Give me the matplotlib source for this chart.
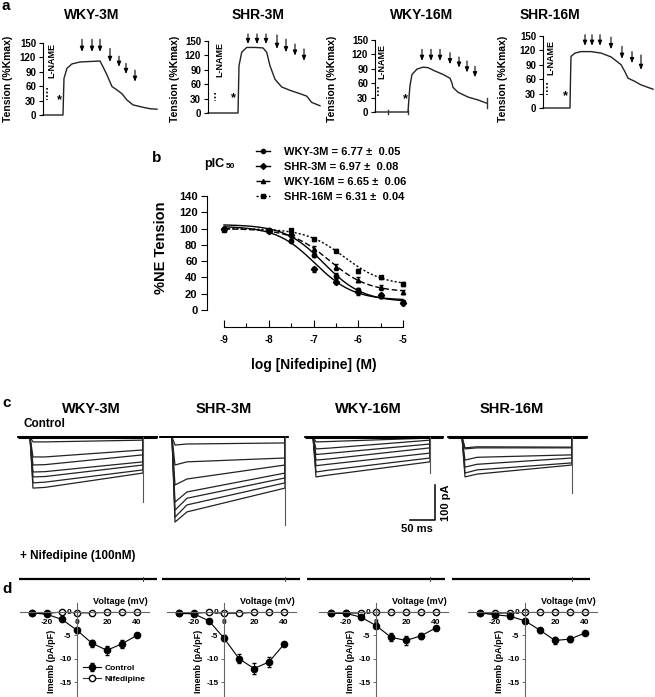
import numpy as np
import matplotlib
matplotlib.use('Agg')
import matplotlib.pyplot as plt
from matplotlib.lines import Line2D

plt.rcParams['font.family'] = ['Liberation Sans', 'DejaVu Sans']
plt.rcParams['font.weight'] = 'bold'
plt.rcParams['axes.labelweight'] = 'bold'
plt.rcParams['axes.unicode_minus'] = False

groups = ['WKY-3M', 'SHR-3M', 'WKY-16M', 'SHR-16M']

# ---------------- panel a : tension traces (time in px-like units, %Kmax)
a_t = [[0, 20, 20.5, 21, 24, 29, 37, 47, 57, 60, 64, 69, 74, 79, 84, 90, 100, 107, 114],
       [0, 30, 31, 33.7, 38.7, 47, 55, 58.7, 62, 67, 73.7, 82, 92, 98.7, 103.7, 112],
       [0, 33, 34, 35, 37, 42, 48, 53, 60, 68, 75, 77, 78, 83, 93, 103, 112],
       [0, 27, 27.5, 28, 32, 38, 48, 58, 68, 78, 82, 85, 92, 98, 110]]
a_y = [[0, 0, 40, 76, 97, 106, 110, 111, 112, 100, 83, 59, 52, 44, 31, 21, 16, 13, 12],
       [0, 0, 98, 126, 136, 136, 135, 126, 98, 70, 54, 47, 40, 35, 22, 15],
       [0, 0, 30, 55, 78, 89, 93, 92, 85, 78, 70, 60, 51, 41, 31, 25, 18],
       [0, 0, 60, 107, 114, 117, 117, 114, 106, 90, 75, 62, 55, 48, 39]]
a_arrow_t = [[39, 49, 57, 67, 76, 83, 92],
             [40, 49, 58, 69, 78, 87, 96],
             [47, 56, 65, 75, 84, 92, 100],
             [42, 49, 57, 68, 79, 89, 98]]
a_arrow_top = [[157, 157, 157, 138, 122, 107, 93],
               [164, 164, 164, 162, 153, 143, 133],
               [130, 130, 130, 123, 114, 106, 95],
               [152, 152, 152, 147, 128, 117, 110]]
a_arrow_tip = [[131, 131, 131, 110, 100, 85, 69],
               [143, 143, 143, 133, 126, 119, 108],
               [106, 106, 106, 99, 92, 82, 72],
               [129, 129, 129, 122, 102, 93, 79]]
a_ticks = [0, 30, 60, 90, 120, 150]

# ---------------- panel b : concentration-response
b_logc = [-9, -8, -7.5, -7, -6.5, -6, -5.5, -5]
b_vals = {'WKY-3M': [100, 98, 85, 68, 42, 25, 17, 10],
          'SHR-3M': [100, 97, 92, 50, 35, 22, 18, 8],
          'WKY-16M': [100, 98, 95, 75, 53, 37, 28, 22],
          'SHR-16M': [98, 97, 98, 87, 73, 48, 40, 32]}
b_err = {'WKY-3M': [1, 1, 2, 3, 3, 2, 2, 2],
         'SHR-3M': [1, 1, 2, 3, 3, 3, 3, 2],
         'WKY-16M': [1, 1, 2, 3, 4, 3, 3, 2],
         'SHR-16M': [1, 1, 2, 2, 2, 2, 2, 2]}
b_pic50 = [6.77, 6.97, 6.65, 6.31]
b_pic50_err = [0.05, 0.08, 0.06, 0.04]
b_top = [105, 103, 100, 100]
b_bottom = [10, 12, 22, 30]

# ---------------- panel c : current traces (ms, pA)
c_on = [24, 24, 16, 28]
c_off = [250, 250, 250, 248]
c_end = [278, 256, 276, 278]
c_peak = [[-14, -57, -80, -100, -114, -131, -146],
          [-23, -80, -137, -186, -209, -229, -243],
          [-14, -34, -50, -66, -82, -100, -114],
          [-31, -34, -66, -86, -103, -114]]
c_mid = [[-14, -57, -79, -99, -113, -129, -144],
         [-20, -71, -120, -157, -175, -194, -214],
         [-13, -32, -47, -63, -78, -95, -109],
         [-28, -31, -58, -78, -94, -106]]
c_late = [[-9, -37, -51, -71, -80, -94, -103],
          [-17, -60, -80, -103, -117, -131, -146],
          [-3, -9, -20, -31, -46, -60, -71],
          [-29, -31, -51, -60, -74, -80]]
c_tail = [-186, -251, -103, -160]
nif_start = [2, 4, 4, 8]
nif_stop = [278, 280, 280, 284]
scale_ms, scale_pa = 50, 100

# ---------------- panel d : I-V curves
d_volt = [-30, -20, -10, 0, 10, 20, 30, 40]
d_ctrl = [[-0.2, -0.5, -1.6, -3.9, -6.7, -8.2, -6.8, -5.0],
          [-0.3, -0.4, -1.9, -5.6, -10.0, -12.1, -10.7, -6.9],
          [-0.2, -0.3, -1.1, -2.9, -5.4, -6.1, -5.1, -3.4],
          [-0.2, -0.6, -0.9, -1.9, -3.9, -6.1, -5.8, -4.5]]
d_ctrl_err = [[0.2, 0.2, 0.3, 0.5, 0.8, 1.0, 0.9, 0.4],
              [0.2, 0.2, 0.3, 0.6, 0.9, 1.1, 1.1, 0.4],
              [0.2, 0.2, 0.3, 0.5, 0.8, 0.9, 0.7, 0.4],
              [0.2, 0.2, 0.3, 0.4, 0.5, 0.8, 0.7, 0.3]]
d_nif = [[-0.3, -0.3, 0.0, -0.2, -0.2, -0.1, -0.1, -0.1],
         [-0.3, -0.3, -0.1, -0.3, -0.3, -0.1, -0.1, -0.1],
         [-0.3, -0.3, -0.2, -0.1, -0.1, -0.1, -0.1, -0.1],
         [-0.3, -0.3, -0.2, -0.1, -0.1, -0.1, -0.1, -0.1]]

W, H = 655, 697
fig = plt.figure(figsize=(W / 100, H / 100), dpi=100)


def box(left, top, width, height):
    return [left / W, 1 - (top + height) / H, width / W, height / H]


def ftext(x, y, s, **kw):
    fig.text(x / W, 1 - y / H, s, **kw)


# ======== panel a
a_axis_px = [43, 208, 375, 543]
a_zero_px = [115, 113, 112, 108]
a_title_px = [92, 258, 422, 550]
a_ylab_px = [8, 175, 332, 503]
a_lname = [(9, 114), (12, 112), (7, 105), (8, 105)]
a_dots = [(4, 55, 31), (7, 42, 24), (3, 51, 31), (4, 52, 28)]
a_star = [(16, 31), (25, 30), (30, 27), (22, 24)]
s = 0.482
for i in range(4):
    ax = fig.add_axes(box(a_axis_px[i], a_zero_px[i] - 165 * s, 118, 173 * s))
    ax.set_xlim(0, 118)
    ax.set_ylim(-8, 165)
    ax.plot(a_t[i], a_y[i], color='#222222', lw=1.0, clip_on=False)
    for t, top, tip in zip(a_arrow_t[i], a_arrow_top[i], a_arrow_tip[i]):
        ax.annotate('', xy=(t, tip), xytext=(t, top),
                    arrowprops=dict(arrowstyle='-|>,head_length=0.3,head_width=0.12',
                                    lw=0.8, color='black', shrinkA=0, shrinkB=0))
    lx, ly = a_lname[i]
    ax.text(lx, ly, 'L-NAME', rotation=90, ha='center', va='center', fontsize=6.5)
    dx, dy0, dy1 = a_dots[i]
    ax.plot([dx, dx], [dy0, dy1], color='black', lw=1.2, ls=(0, (1, 1.2)))
    ax.text(a_star[i][0], a_star[i][1], '*', ha='center', va='center', fontsize=9)
    if i == 2:
        for t, lo, hi in [(13, -4, 4), (33, -4, 4), (112, 8, 30)]:
            ax.plot([t, t], [lo, hi], color='#333333', lw=1.0)
    for sp in ['top', 'right', 'bottom']:
        ax.spines[sp].set_visible(False)
    ax.spines['left'].set_bounds(0, 150)
    ax.spines['left'].set_linewidth(0.8)
    ax.set_yticks(a_ticks)
    ax.set_xticks([])
    ax.tick_params(axis='y', length=3, width=0.8, pad=2, labelsize=7)
    ftext(a_title_px[i], 15, groups[i], ha='center', va='center', fontsize=10)
    ftext(a_ylab_px[i], 79, 'Tension (%Kmax)', rotation=90, ha='center', va='center', fontsize=7.5)
ftext(2, 10, 'a', fontsize=11, va='baseline')

# ======== panel b
axb = fig.add_axes(box(224, 196, 179, 114))
xs = np.linspace(-9, -5, 200)
styles = [('-', 'o'), ('-', 'D'), ((0, (4, 2)), '^'), ((0, (1.5, 1.5)), 's')]
handles, labels = [], []
for k, g in enumerate(groups):
    ls, mk = styles[k]
    fit = b_bottom[k] + (b_top[k] - b_bottom[k]) / (1 + 10 ** ((xs + b_pic50[k])))
    axb.plot(xs, fit, color='black', lw=1.0, ls=ls, clip_on=False)
    axb.errorbar(b_logc, b_vals[g], yerr=b_err[g], fmt=mk, ms=3.2, color='black',
                 ecolor='black', elinewidth=0.7, capsize=1.5, clip_on=False)
    handles.append(Line2D([], [], color='black', lw=1.0, ls=ls, marker=mk, ms=3))
    labels.append('%s = %.2f \u00b1  %.2f' % (g, b_pic50[k], b_pic50_err[k]))
axb.set_xlim(-9, -5)
axb.set_ylim(0, 140)
axb.spines['top'].set_visible(False)
axb.spines['right'].set_visible(False)
axb.spines['left'].set_position(('outward', 12))
axb.spines['bottom'].set_position(('outward', 12))
axb.spines['left'].set_bounds(0, 140)
axb.set_yticks(range(0, 141, 20))
axb.set_xticks([-9, -8, -7, -6, -5])
axb.set_xticks(np.arange(-9, -4.9, 0.5), minor=True)
axb.tick_params(axis='y', length=4, width=0.8, labelsize=8, pad=3)
axb.tick_params(axis='x', which='both', direction='in', length=5, width=0.8, labelsize=7, pad=6)
axb.tick_params(axis='x', which='minor', length=3)
ftext(161, 248, '%NE Tension', rotation=90, ha='center', va='center', fontsize=10.5)
ftext(314, 365, 'log [Nifedipine] (M)', ha='center', va='center', fontsize=10)
ftext(204, 167, 'pIC', fontsize=9, va='baseline')
ftext(226, 168, '50', fontsize=6, va='baseline')
fig.legend(handles, labels, loc='upper left', bbox_to_anchor=(256 / W, 1 - 147 / H),
           frameon=False, fontsize=8, handlelength=1.3, handletextpad=1.2,
           labelspacing=0.45, borderpad=0, borderaxespad=0)
ftext(152, 162, 'b', fontsize=11, va='baseline')

# ======== panel c
c_left_px = [18, 160, 305, 448]
c_title_px = [91, 224, 368, 512]
for i in range(4):
    ax = fig.add_axes(box(c_left_px[i], 430, 140, 98))
    ax.set_xlim(0, 280)
    ax.set_ylim(-260, 20)
    ax.axis('off')
    on, off = c_on[i], c_off[i]
    for pk, md, lt in zip(c_peak[i], c_mid[i], c_late[i]):
        ax.plot([0, on, on + 6, on + 30, off, off, c_end[i]], [0, 0, pk, md, lt, 0, 0],
                color='#222222', lw=0.9, clip_on=False)
    ax.plot([0, c_end[i]], [0, 0], color='black', lw=2.2 if i != 1 else 1.4,
            solid_capstyle='butt')
    ax.plot([off, off], [0, c_tail[i]], color='#555555', lw=0.8)
    ftext(c_title_px[i], 409, groups[i], ha='center', va='center', fontsize=10.5)
    axn = fig.add_axes(box(c_left_px[i], 572, 140, 14))
    axn.set_xlim(0, 280)
    axn.set_ylim(-20, 20)
    axn.axis('off')
    axn.plot([nif_start[i], nif_stop[i]], [0, 0], color='black', lw=1.6,
             solid_capstyle='butt', clip_on=False)
    axn.plot([off, off], [-5, 5], color='#444444', lw=0.7)
    if i == 2:
        t0, i0 = 210, -237
        ax.plot([t0, t0 + scale_ms, t0 + scale_ms], [i0, i0, i0 + scale_pa],
                color='black', lw=1.1, clip_on=False)
        ax.text(t0 + scale_ms / 2 - 12, i0 - 12, '%d ms' % scale_ms, ha='center', va='top',
                fontsize=8)
        ax.text(t0 + scale_ms + 22, i0 + scale_pa / 2, '%d pA' % scale_pa, rotation=90,
                ha='center', va='center', fontsize=8)
ftext(23, 427, 'Control', fontsize=8.5, va='baseline')
ftext(20, 556, '+ Nifedipine (100nM)', fontsize=8.5, va='center')
ftext(2, 407, 'c', fontsize=11, va='baseline')

# ======== panel d
d_zero_px = [77, 224, 376, 525]
for i in range(4):
    ax = fig.add_axes(box(d_zero_px[i] - 60, 612 - 3 * 4.67, 135, 21.3 * 4.67))
    ax.set_xlim(-40, 50)
    ax.set_ylim(-18.3, 3)
    ax.spines['top'].set_visible(False)
    ax.spines['right'].set_visible(False)
    ax.spines['left'].set_position(('data', 0))
    ax.spines['bottom'].set_position(('data', 0))
    ax.spines['left'].set_bounds(-18.3, 2)
    ax.spines['bottom'].set_bounds(-38, 48)
    for sp in ['left', 'bottom']:
        ax.spines[sp].set_color('#666666')
        ax.spines[sp].set_linewidth(0.8)
    ax.set_xticks([-20, 0, 20, 40])
    ax.set_yticks([0, -5, -10, -15])
    ax.tick_params(axis='both', length=2, width=0.7, labelsize=6, pad=2, color='#666666')
    ax.tick_params(axis='x', pad=3)
    ctrl = ax.errorbar(d_volt, d_ctrl[i], yerr=d_ctrl_err[i], fmt='-o', color='black', ms=4.5,
                       lw=0.8, elinewidth=0.7, capsize=1.5, clip_on=False)
    nif, = ax.plot(d_volt, d_nif[i], '-o', color='#333333', mfc='white', mec='black', ms=4.5,
                   lw=0.8, clip_on=False)
    ax.text(47, 2.2, 'Voltage (mV)', ha='right', va='center', fontsize=6.5)
    ax.text(-17, -10.5, 'Imemb (pA/pF)', rotation=90, ha='center', va='center', fontsize=6.5)
    if i == 0:
        ax.legend([ctrl, nif], ['Control', 'Nifedipine'], loc='upper left',
                  bbox_to_anchor=(4, -11.2), bbox_transform=ax.transData,
                  frameon=False, fontsize=6, handlelength=2.2, handletextpad=0.4,
                  labelspacing=0.35, borderpad=0, borderaxespad=0)
ftext(2, 593, 'd', fontsize=11, va='baseline')

fig.savefig('out.png', dpi=100)
